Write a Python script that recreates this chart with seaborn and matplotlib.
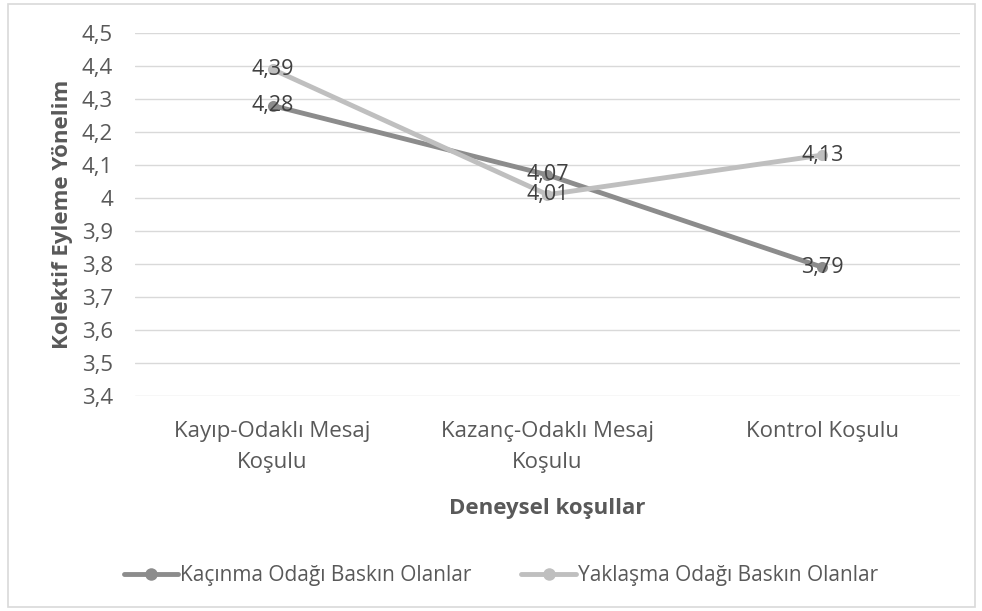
import pandas as pd
import matplotlib.pyplot as plt
import seaborn as sns
from matplotlib.patches import Rectangle

categories = ["Kayıp-Odaklı Mesaj\nKoşulu", "Kazanç-Odaklı Mesaj\nKoşulu", "Kontrol Koşulu"]
kacinma = [4.28, 4.07, 3.79]
yaklasma = [4.39, 4.01, 4.13]
series_names = ["Kaçınma Odağı Baskın Olanlar", "Yaklaşma Odağı Baskın Olanlar"]
yticks = [3.4, 3.5, 3.6, 3.7, 3.8, 3.9, 4.0, 4.1, 4.2, 4.3, 4.4, 4.5]

sns.set_theme(style="white")
plt.rcParams["font.family"] = ["Open Sans", "DejaVu Sans"]

df = pd.DataFrame({
    "pos": list(range(3)) * 2,
    "value": kacinma + yaklasma,
    "series": [series_names[0]] * 3 + [series_names[1]] * 3,
})

text_color = "#595959"
colors = {series_names[0]: "#8c8c8c", series_names[1]: "#bfbfbf"}

fig = plt.figure(figsize=(9.82, 6.11), dpi=100)
ax = fig.add_axes([0.1375, 0.352, 0.840, 0.594])

for y in yticks:
    ax.axhline(y, color="#d9d9d9", lw=1, zorder=0)

sns.lineplot(data=df, x="pos", y="value", hue="series", palette=colors,
             marker="o", markersize=8, markeredgewidth=0, linewidth=3.5,
             ax=ax, legend=False, zorder=3)

for vals in (kacinma, yaklasma):
    for i, v in enumerate(vals):
        ax.text(i, v, f"{v:.2f}".replace(".", ","), ha="center", va="center",
                fontsize=15.5, color="#404040", zorder=5)

ax.set_xlim(-0.5, 2.5)
ax.set_ylim(3.4, 4.5)
ax.set_yticks(yticks)
ax.set_yticklabels([f"{t:g}".replace(".", ",") for t in yticks])
ax.set_xticks(range(3))
ax.set_xticklabels(categories, linespacing=1.6)
ax.tick_params(axis="both", colors=text_color, labelsize=16, length=0)
ax.tick_params(axis="x", pad=18)
ax.tick_params(axis="y", pad=16)
for s in ax.spines.values():
    s.set_visible(False)

ax.set_ylabel("Kolektif Eyleme Yönelim", fontsize=16, fontweight="bold",
              color=text_color, labelpad=6)
ax.set_xlabel("Deneysel koşullar", fontsize=16, fontweight="bold",
              color=text_color, labelpad=18)

handles = [plt.Line2D([], [], color=colors[n], lw=3.5, marker="o", markersize=9,
                      markeredgewidth=0) for n in series_names]
fig.legend(handles, series_names, loc="center", bbox_to_anchor=(0.51, 0.058),
           ncol=2, frameon=False, fontsize=15, handlelength=2.6,
           handletextpad=0.1, columnspacing=2.4, labelcolor=text_color)

fig.patches.append(Rectangle((0.008, 0.006), 0.985, 0.987, transform=fig.transFigure,
                             fill=False, edgecolor="#d9d9d9", lw=1.2))

fig.savefig("out.png", dpi=100)
